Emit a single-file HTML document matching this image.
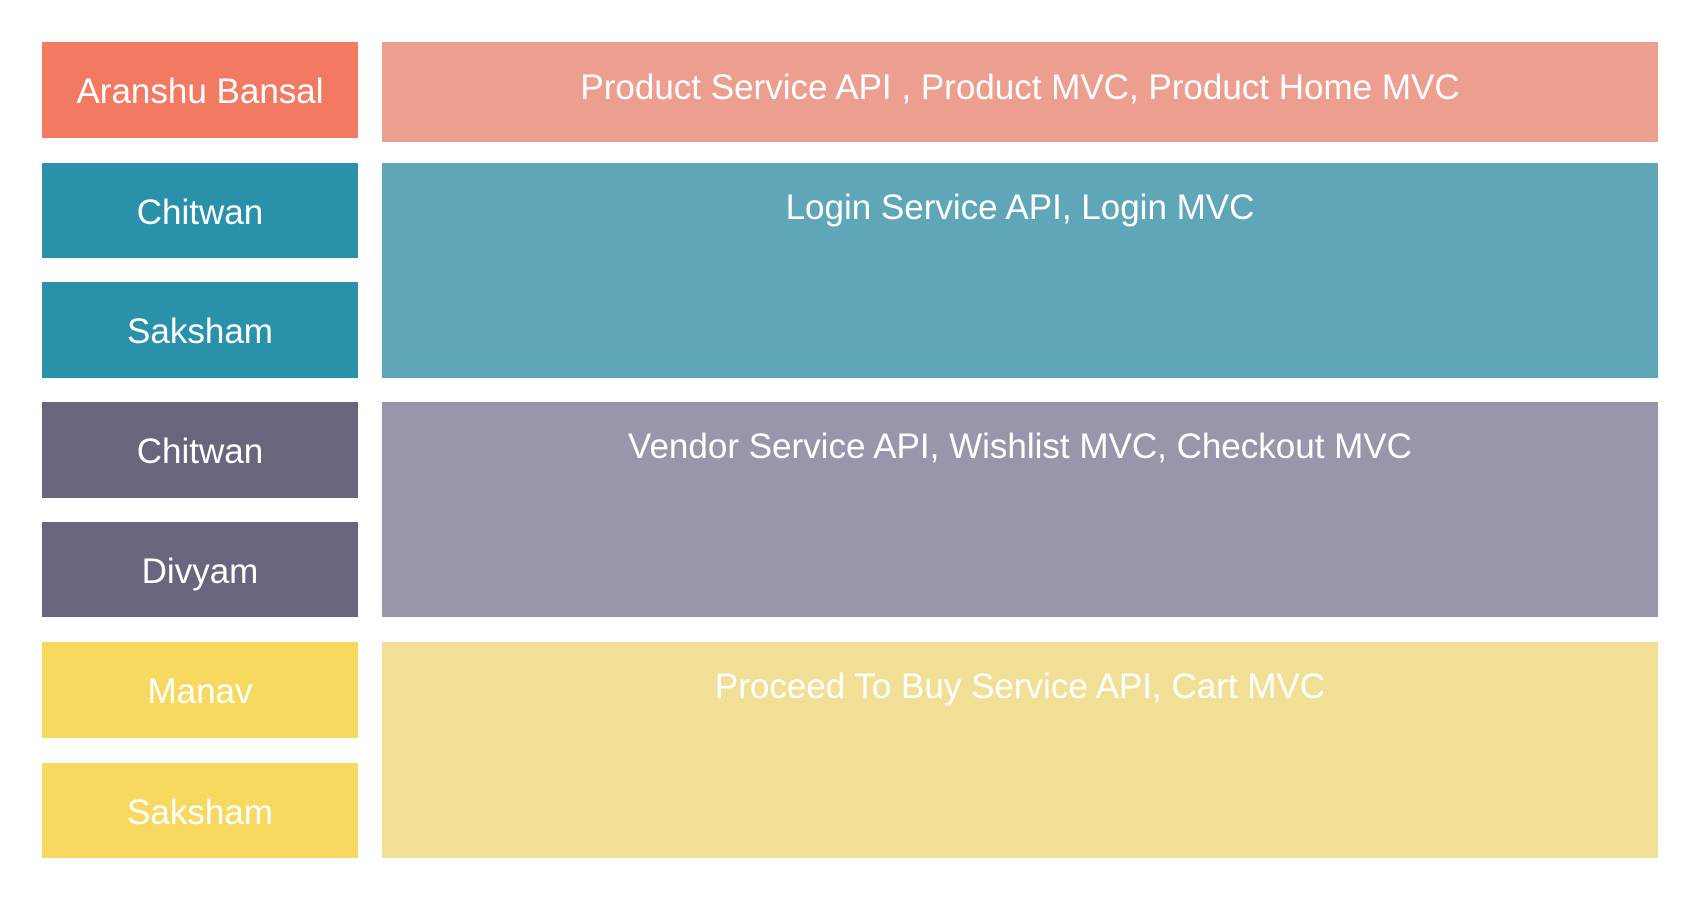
<!DOCTYPE html>
<html><head><style>
body{margin:0;width:1701px;height:901px;background:#fff;position:relative;overflow:hidden;font-family:"Liberation Sans",sans-serif;}
.b{position:absolute;color:#fff;font-size:35px;text-align:center;box-sizing:border-box;}
.l{left:42px;width:316px;display:flex;align-items:center;justify-content:center;padding-top:4px;}
.r{left:382px;width:1276px;padding-top:25px;line-height:40px;}
</style></head><body>
<div class="b l" style="top:42px;height:96px;background:#F37A62">Aranshu Bansal</div>
<div class="b l" style="top:163px;height:95px;background:#2A91AA">Chitwan</div>
<div class="b l" style="top:282px;height:96px;background:#2A91AA">Saksham</div>
<div class="b l" style="top:402px;height:96px;background:#67667C">Chitwan</div>
<div class="b l" style="top:522px;height:95px;background:#67667C">Divyam</div>
<div class="b l" style="top:642px;height:96px;background:#F6D95E">Manav</div>
<div class="b l" style="top:763px;height:95px;background:#F6D95E">Saksham</div>
<div class="b r" style="top:42px;height:100px;background:#EC9F8E;padding-top:26px">Product Service API , Product MVC, Product Home MVC</div>
<div class="b r" style="top:163px;height:215px;background:#5FA7B8">Login Service API, Login MVC</div>
<div class="b r" style="top:402px;height:215px;background:#9896AA">Vendor Service API, Wishlist MVC, Checkout MVC</div>
<div class="b r" style="top:642px;height:216px;background:#F0DF95">Proceed To Buy Service API, Cart MVC</div>
</body></html>
